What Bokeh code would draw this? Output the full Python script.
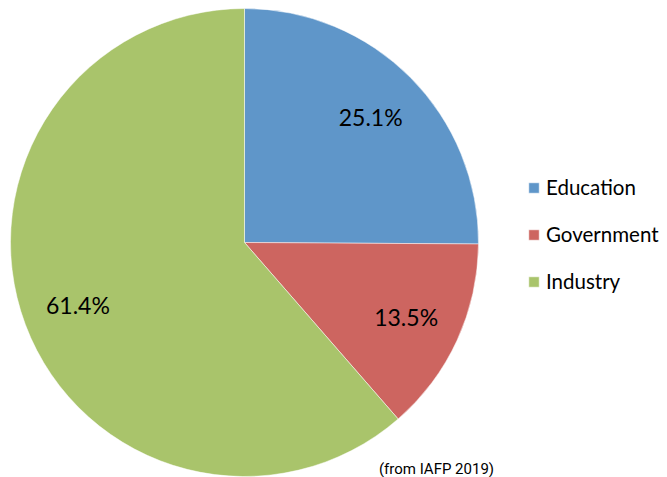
import math
from bokeh.plotting import figure
from bokeh.models import Range1d, Legend, LegendItem, ColumnDataSource, Label
from bokeh.core.properties import value
from bokeh.embed import file_html
from bokeh.resources import INLINE

categories = ["Education", "Government", "Industry"]
shares = [25.1, 13.5, 61.4]
labels = ["25.1%", "13.5%", "61.4%"]
colors = ["#5F96C9", "#CD6560", "#A9C46B"]

W, H = 667, 477
cx, cy, R = 244, 235, 234

total = sum(shares)
starts, ends, lx, ly = [], [], [], []
cum = 0.0
for s in shares:
    a0 = math.pi / 2 - 2 * math.pi * cum / total
    cum += s
    a1 = math.pi / 2 - 2 * math.pi * cum / total
    starts.append(a0)
    ends.append(a1)
    mid = (a0 + a1) / 2
    lx.append(cx + 0.76 * R * math.cos(mid))
    ly.append(cy + 0.76 * R * math.sin(mid))

src = ColumnDataSource(dict(cat=categories, start=starts, end=ends, color=colors,
                            x=[cx] * 3, y=[cy] * 3, lx=lx, ly=ly, label=labels))

p = figure(width=W, height=H, output_backend="svg", toolbar_location=None,
           x_range=Range1d(0, W), y_range=Range1d(0, H), min_border=0,
           outline_line_color=None, background_fill_color="white")
p.axis.visible = False
p.grid.visible = False

r = p.wedge(x="x", y="y", radius=R, start_angle="start", end_angle="end",
            direction="clock", fill_color="color", line_color="white",
            line_width=0.5, source=src)

p.text(x="lx", y="ly", text="label", source=src, text_font=value("Lato"),
       text_font_size="23px", text_align="center", text_baseline="middle",
       text_color="black")

items = [LegendItem(label=c, renderers=[r], index=i) for i, c in enumerate(categories)]
legend = Legend(items=items, location=(527, 184), orientation="vertical",
                glyph_width=13, glyph_height=13, label_height=20, spacing=23,
                label_standoff=6, padding=0, margin=0, border_line_color=None,
                background_fill_alpha=0, label_text_font="Lato",
                label_text_font_size="20.5px", label_text_color="black")
p.add_layout(legend)

note = Label(x=436, y=9, text="(from IAFP 2019)", text_align="center",
             text_baseline="middle", text_font="Roboto",
             text_font_size="15px", text_color="black")
p.add_layout(note)

open("out.html", "w").write(file_html(p, INLINE))
